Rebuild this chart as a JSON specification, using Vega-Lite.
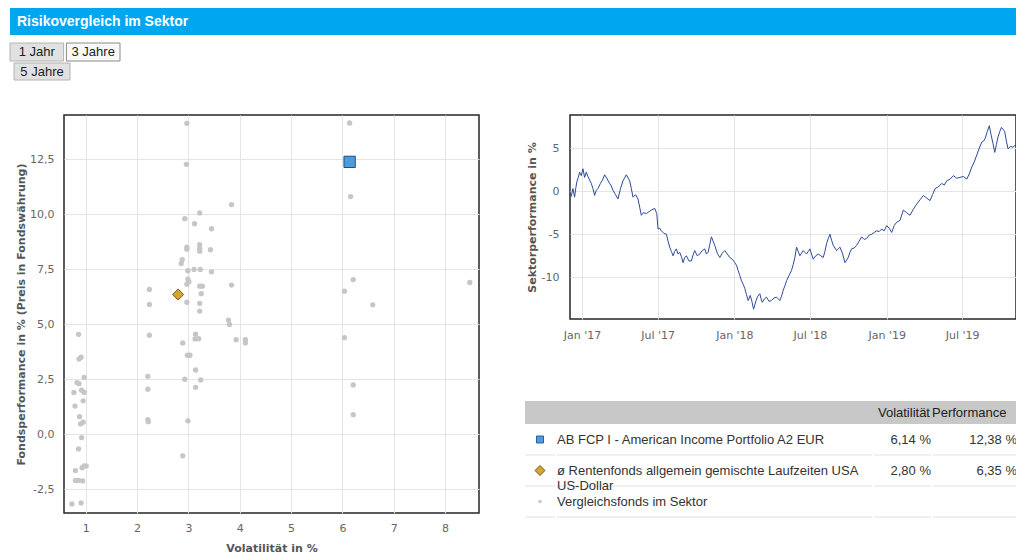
{
  "$schema": "https://vega.github.io/schema/vega-lite/v6.json",
  "background": "white",
  "padding": {"left": 9, "top": 8, "right": 0, "bottom": 0},
  "config": {
    "locale": {"number": {"decimal": ",", "thousands": ".", "grouping": [3], "currency": ["", " €"], "minus": "-"}},
    "view": {"stroke": null},
    "font": "Liberation Sans",
    "axis": {"domain": false, "ticks": false, "gridColor": "#e4e4e4", "gridWidth": 1, "labelFont": "DejaVu Sans", "labelFontSize": 11, "labelColor": "#666666", "titleFont": "DejaVu Sans", "titleFontSize": 11, "titleFontWeight": "bold", "titleColor": "#555555"}
  },
  "datasets": {
    "tabelle": [
      {"Gruppe": "AB FCP I - American Income Portfolio A2 EUR", "Bezeichnung": "AB FCP I - American Income Portfolio A2 EUR", "Volatilität": "6,14 %", "Performance": "12,38 %"},
      {"Gruppe": "ø Rentenfonds allgemein gemischte Laufzeiten USA US-Dollar", "Bezeichnung": "ø Rentenfonds allgemein gemischte Laufzeiten USA\nUS-Dollar", "Volatilität": "2,80 %", "Performance": "6,35 %"},
      {"Gruppe": "Vergleichsfonds im Sektor", "Bezeichnung": "Vergleichsfonds im Sektor", "Volatilität": "", "Performance": ""}
    ],
    "streuung": [
      {"Volatilität": 0.73, "Performance": -3.17, "Gruppe": "Vergleichsfonds im Sektor"},
      {"Volatilität": 0.91, "Performance": -3.12, "Gruppe": "Vergleichsfonds im Sektor"},
      {"Volatilität": 0.80, "Performance": -2.10, "Gruppe": "Vergleichsfonds im Sektor"},
      {"Volatilität": 0.86, "Performance": -2.10, "Gruppe": "Vergleichsfonds im Sektor"},
      {"Volatilität": 0.94, "Performance": -2.12, "Gruppe": "Vergleichsfonds im Sektor"},
      {"Volatilität": 0.80, "Performance": -1.65, "Gruppe": "Vergleichsfonds im Sektor"},
      {"Volatilität": 0.93, "Performance": -1.52, "Gruppe": "Vergleichsfonds im Sektor"},
      {"Volatilität": 0.97, "Performance": -1.44, "Gruppe": "Vergleichsfonds im Sektor"},
      {"Volatilität": 1.01, "Performance": -1.44, "Gruppe": "Vergleichsfonds im Sektor"},
      {"Volatilität": 0.86, "Performance": -0.67, "Gruppe": "Vergleichsfonds im Sektor"},
      {"Volatilität": 0.92, "Performance": -0.15, "Gruppe": "Vergleichsfonds im Sektor"},
      {"Volatilität": 0.90, "Performance": 0.47, "Gruppe": "Vergleichsfonds im Sektor"},
      {"Volatilität": 0.95, "Performance": 0.55, "Gruppe": "Vergleichsfonds im Sektor"},
      {"Volatilität": 0.88, "Performance": 0.80, "Gruppe": "Vergleichsfonds im Sektor"},
      {"Volatilität": 0.79, "Performance": 1.28, "Gruppe": "Vergleichsfonds im Sektor"},
      {"Volatilität": 0.95, "Performance": 1.52, "Gruppe": "Vergleichsfonds im Sektor"},
      {"Volatilität": 0.77, "Performance": 1.90, "Gruppe": "Vergleichsfonds im Sektor"},
      {"Volatilität": 0.97, "Performance": 1.90, "Gruppe": "Vergleichsfonds im Sektor"},
      {"Volatilität": 0.92, "Performance": 2.00, "Gruppe": "Vergleichsfonds im Sektor"},
      {"Volatilität": 0.83, "Performance": 2.35, "Gruppe": "Vergleichsfonds im Sektor"},
      {"Volatilität": 0.87, "Performance": 2.30, "Gruppe": "Vergleichsfonds im Sektor"},
      {"Volatilität": 0.97, "Performance": 2.58, "Gruppe": "Vergleichsfonds im Sektor"},
      {"Volatilität": 0.87, "Performance": 3.42, "Gruppe": "Vergleichsfonds im Sektor"},
      {"Volatilität": 0.91, "Performance": 3.50, "Gruppe": "Vergleichsfonds im Sektor"},
      {"Volatilität": 0.86, "Performance": 4.54, "Gruppe": "Vergleichsfonds im Sektor"},
      {"Volatilität": 2.21, "Performance": 0.66, "Gruppe": "Vergleichsfonds im Sektor"},
      {"Volatilität": 2.22, "Performance": 0.57, "Gruppe": "Vergleichsfonds im Sektor"},
      {"Volatilität": 2.21, "Performance": 2.05, "Gruppe": "Vergleichsfonds im Sektor"},
      {"Volatilität": 2.21, "Performance": 2.63, "Gruppe": "Vergleichsfonds im Sektor"},
      {"Volatilität": 2.24, "Performance": 4.50, "Gruppe": "Vergleichsfonds im Sektor"},
      {"Volatilität": 2.24, "Performance": 5.90, "Gruppe": "Vergleichsfonds im Sektor"},
      {"Volatilität": 2.24, "Performance": 6.58, "Gruppe": "Vergleichsfonds im Sektor"},
      {"Volatilität": 2.89, "Performance": -0.98, "Gruppe": "Vergleichsfonds im Sektor"},
      {"Volatilität": 2.99, "Performance": 0.61, "Gruppe": "Vergleichsfonds im Sektor"},
      {"Volatilität": 2.93, "Performance": 2.50, "Gruppe": "Vergleichsfonds im Sektor"},
      {"Volatilität": 3.24, "Performance": 2.47, "Gruppe": "Vergleichsfonds im Sektor"},
      {"Volatilität": 3.14, "Performance": 2.13, "Gruppe": "Vergleichsfonds im Sektor"},
      {"Volatilität": 3.14, "Performance": 2.92, "Gruppe": "Vergleichsfonds im Sektor"},
      {"Volatilität": 2.98, "Performance": 3.59, "Gruppe": "Vergleichsfonds im Sektor"},
      {"Volatilität": 3.03, "Performance": 3.59, "Gruppe": "Vergleichsfonds im Sektor"},
      {"Volatilität": 2.89, "Performance": 4.15, "Gruppe": "Vergleichsfonds im Sektor"},
      {"Volatilität": 3.14, "Performance": 4.55, "Gruppe": "Vergleichsfonds im Sektor"},
      {"Volatilität": 3.13, "Performance": 4.33, "Gruppe": "Vergleichsfonds im Sektor"},
      {"Volatilität": 3.20, "Performance": 4.34, "Gruppe": "Vergleichsfonds im Sektor"},
      {"Volatilität": 3.22, "Performance": 5.60, "Gruppe": "Vergleichsfonds im Sektor"},
      {"Volatilität": 2.97, "Performance": 6.00, "Gruppe": "Vergleichsfonds im Sektor"},
      {"Volatilität": 3.22, "Performance": 5.95, "Gruppe": "Vergleichsfonds im Sektor"},
      {"Volatilität": 3.25, "Performance": 6.39, "Gruppe": "Vergleichsfonds im Sektor"},
      {"Volatilität": 3.22, "Performance": 6.73, "Gruppe": "Vergleichsfonds im Sektor"},
      {"Volatilität": 3.27, "Performance": 6.73, "Gruppe": "Vergleichsfonds im Sektor"},
      {"Volatilität": 3.84, "Performance": 6.78, "Gruppe": "Vergleichsfonds im Sektor"},
      {"Volatilität": 2.97, "Performance": 6.82, "Gruppe": "Vergleichsfonds im Sektor"},
      {"Volatilität": 3.01, "Performance": 6.93, "Gruppe": "Vergleichsfonds im Sektor"},
      {"Volatilität": 2.99, "Performance": 7.05, "Gruppe": "Vergleichsfonds im Sektor"},
      {"Volatilität": 2.99, "Performance": 7.43, "Gruppe": "Vergleichsfonds im Sektor"},
      {"Volatilität": 3.11, "Performance": 7.49, "Gruppe": "Vergleichsfonds im Sektor"},
      {"Volatilität": 3.23, "Performance": 7.49, "Gruppe": "Vergleichsfonds im Sektor"},
      {"Volatilität": 3.45, "Performance": 7.38, "Gruppe": "Vergleichsfonds im Sektor"},
      {"Volatilität": 2.88, "Performance": 7.94, "Gruppe": "Vergleichsfonds im Sektor"},
      {"Volatilität": 2.86, "Performance": 7.76, "Gruppe": "Vergleichsfonds im Sektor"},
      {"Volatilität": 2.97, "Performance": 8.50, "Gruppe": "Vergleichsfonds im Sektor"},
      {"Volatilität": 2.97, "Performance": 8.41, "Gruppe": "Vergleichsfonds im Sektor"},
      {"Volatilität": 3.22, "Performance": 8.62, "Gruppe": "Vergleichsfonds im Sektor"},
      {"Volatilität": 3.22, "Performance": 8.45, "Gruppe": "Vergleichsfonds im Sektor"},
      {"Volatilität": 3.22, "Performance": 8.32, "Gruppe": "Vergleichsfonds im Sektor"},
      {"Volatilität": 3.43, "Performance": 8.39, "Gruppe": "Vergleichsfonds im Sektor"},
      {"Volatilität": 3.45, "Performance": 9.34, "Gruppe": "Vergleichsfonds im Sektor"},
      {"Volatilität": 3.12, "Performance": 9.57, "Gruppe": "Vergleichsfonds im Sektor"},
      {"Volatilität": 2.93, "Performance": 9.80, "Gruppe": "Vergleichsfonds im Sektor"},
      {"Volatilität": 3.22, "Performance": 10.06, "Gruppe": "Vergleichsfonds im Sektor"},
      {"Volatilität": 3.84, "Performance": 10.44, "Gruppe": "Vergleichsfonds im Sektor"},
      {"Volatilität": 2.96, "Performance": 12.27, "Gruppe": "Vergleichsfonds im Sektor"},
      {"Volatilität": 2.97, "Performance": 14.13, "Gruppe": "Vergleichsfonds im Sektor"},
      {"Volatilität": 3.78, "Performance": 5.19, "Gruppe": "Vergleichsfonds im Sektor"},
      {"Volatilität": 3.80, "Performance": 4.99, "Gruppe": "Vergleichsfonds im Sektor"},
      {"Volatilität": 3.93, "Performance": 4.30, "Gruppe": "Vergleichsfonds im Sektor"},
      {"Volatilität": 4.11, "Performance": 4.30, "Gruppe": "Vergleichsfonds im Sektor"},
      {"Volatilität": 4.11, "Performance": 4.15, "Gruppe": "Vergleichsfonds im Sektor"},
      {"Volatilität": 6.04, "Performance": 4.39, "Gruppe": "Vergleichsfonds im Sektor"},
      {"Volatilität": 6.21, "Performance": 2.24, "Gruppe": "Vergleichsfonds im Sektor"},
      {"Volatilität": 6.21, "Performance": 0.89, "Gruppe": "Vergleichsfonds im Sektor"},
      {"Volatilität": 6.04, "Performance": 6.50, "Gruppe": "Vergleichsfonds im Sektor"},
      {"Volatilität": 6.21, "Performance": 7.03, "Gruppe": "Vergleichsfonds im Sektor"},
      {"Volatilität": 6.59, "Performance": 5.88, "Gruppe": "Vergleichsfonds im Sektor"},
      {"Volatilität": 8.48, "Performance": 6.90, "Gruppe": "Vergleichsfonds im Sektor"},
      {"Volatilität": 6.16, "Performance": 10.80, "Gruppe": "Vergleichsfonds im Sektor"},
      {"Volatilität": 6.14, "Performance": 14.15, "Gruppe": "Vergleichsfonds im Sektor"},
      {"Volatilität": 2.80, "Performance": 6.35, "Gruppe": "ø Rentenfonds allgemein gemischte Laufzeiten USA US-Dollar"},
      {"Volatilität": 6.14, "Performance": 12.38, "Gruppe": "AB FCP I - American Income Portfolio A2 EUR"}
    ],
    "sektor": [
      {"Datum": "2016-12-03", "Wert": -0.3}, {"Datum": "2016-12-06", "Wert": -0.6}, {"Datum": "2016-12-10", "Wert": 0.3},
      {"Datum": "2016-12-14", "Wert": -0.7}, {"Datum": "2016-12-17", "Wert": 0.4}, {"Datum": "2016-12-20", "Wert": 1.2},
      {"Datum": "2016-12-23", "Wert": 1.6}, {"Datum": "2016-12-26", "Wert": 2.2}, {"Datum": "2016-12-30", "Wert": 1.8},
      {"Datum": "2017-01-03", "Wert": 2.6}, {"Datum": "2017-01-07", "Wert": 1.6}, {"Datum": "2017-01-11", "Wert": 2.2},
      {"Datum": "2017-01-15", "Wert": 1.7}, {"Datum": "2017-01-19", "Wert": 1.3}, {"Datum": "2017-01-23", "Wert": 0.9},
      {"Datum": "2017-01-27", "Wert": 0.3}, {"Datum": "2017-01-31", "Wert": -0.5}, {"Datum": "2017-02-04", "Wert": 0.1},
      {"Datum": "2017-02-08", "Wert": 0.3}, {"Datum": "2017-02-14", "Wert": 0.9}, {"Datum": "2017-02-19", "Wert": 1.3},
      {"Datum": "2017-02-24", "Wert": 1.9}, {"Datum": "2017-03-01", "Wert": 1.5}, {"Datum": "2017-03-08", "Wert": 0.9},
      {"Datum": "2017-03-12", "Wert": 0.6}, {"Datum": "2017-03-16", "Wert": 0.1}, {"Datum": "2017-03-22", "Wert": -0.4},
      {"Datum": "2017-03-28", "Wert": -0.9}, {"Datum": "2017-04-03", "Wert": 0.3}, {"Datum": "2017-04-09", "Wert": 1.2},
      {"Datum": "2017-04-17", "Wert": 1.9}, {"Datum": "2017-04-25", "Wert": 1.2}, {"Datum": "2017-04-29", "Wert": 0.3},
      {"Datum": "2017-05-03", "Wert": -0.7}, {"Datum": "2017-05-09", "Wert": -0.4}, {"Datum": "2017-05-15", "Wert": -0.9},
      {"Datum": "2017-05-23", "Wert": -2.8}, {"Datum": "2017-05-28", "Wert": -2.5}, {"Datum": "2017-06-04", "Wert": -2.6},
      {"Datum": "2017-06-10", "Wert": -2.4}, {"Datum": "2017-06-16", "Wert": -2.2}, {"Datum": "2017-06-24", "Wert": -2.0},
      {"Datum": "2017-06-29", "Wert": -2.6}, {"Datum": "2017-07-02", "Wert": -4.4}, {"Datum": "2017-07-06", "Wert": -4.3},
      {"Datum": "2017-07-10", "Wert": -4.6}, {"Datum": "2017-07-16", "Wert": -4.9}, {"Datum": "2017-07-22", "Wert": -5.0},
      {"Datum": "2017-07-26", "Wert": -5.8}, {"Datum": "2017-07-30", "Wert": -6.5}, {"Datum": "2017-08-03", "Wert": -7.0},
      {"Datum": "2017-08-07", "Wert": -7.5}, {"Datum": "2017-08-11", "Wert": -7.0}, {"Datum": "2017-08-15", "Wert": -6.7},
      {"Datum": "2017-08-19", "Wert": -7.3}, {"Datum": "2017-08-23", "Wert": -7.1}, {"Datum": "2017-08-27", "Wert": -7.6},
      {"Datum": "2017-08-31", "Wert": -8.3}, {"Datum": "2017-09-04", "Wert": -7.7}, {"Datum": "2017-09-08", "Wert": -7.5},
      {"Datum": "2017-09-14", "Wert": -8.1}, {"Datum": "2017-09-20", "Wert": -8.1}, {"Datum": "2017-09-24", "Wert": -7.4},
      {"Datum": "2017-09-28", "Wert": -6.9}, {"Datum": "2017-10-04", "Wert": -7.5}, {"Datum": "2017-10-10", "Wert": -7.3},
      {"Datum": "2017-10-16", "Wert": -6.9}, {"Datum": "2017-10-22", "Wert": -6.7}, {"Datum": "2017-10-26", "Wert": -7.3},
      {"Datum": "2017-10-30", "Wert": -7.1}, {"Datum": "2017-11-03", "Wert": -6.2}, {"Datum": "2017-11-07", "Wert": -5.3},
      {"Datum": "2017-11-11", "Wert": -5.8}, {"Datum": "2017-11-15", "Wert": -6.3}, {"Datum": "2017-11-21", "Wert": -7.2},
      {"Datum": "2017-11-27", "Wert": -7.7}, {"Datum": "2017-12-03", "Wert": -7.2}, {"Datum": "2017-12-09", "Wert": -6.9},
      {"Datum": "2017-12-15", "Wert": -7.3}, {"Datum": "2017-12-21", "Wert": -7.7}, {"Datum": "2017-12-27", "Wert": -7.9},
      {"Datum": "2018-01-02", "Wert": -8.3}, {"Datum": "2018-01-06", "Wert": -8.6}, {"Datum": "2018-01-10", "Wert": -9.2},
      {"Datum": "2018-01-14", "Wert": -9.8}, {"Datum": "2018-01-18", "Wert": -10.4}, {"Datum": "2018-01-22", "Wert": -10.8},
      {"Datum": "2018-01-26", "Wert": -11.3}, {"Datum": "2018-01-30", "Wert": -12.0}, {"Datum": "2018-02-03", "Wert": -12.7},
      {"Datum": "2018-02-08", "Wert": -12.1}, {"Datum": "2018-02-12", "Wert": -12.8}, {"Datum": "2018-02-16", "Wert": -13.7},
      {"Datum": "2018-02-19", "Wert": -13.2}, {"Datum": "2018-02-22", "Wert": -12.7}, {"Datum": "2018-02-26", "Wert": -12.2},
      {"Datum": "2018-03-03", "Wert": -11.9}, {"Datum": "2018-03-06", "Wert": -12.5}, {"Datum": "2018-03-09", "Wert": -12.9},
      {"Datum": "2018-03-14", "Wert": -12.5}, {"Datum": "2018-03-19", "Wert": -12.3}, {"Datum": "2018-03-25", "Wert": -12.8},
      {"Datum": "2018-03-31", "Wert": -12.7}, {"Datum": "2018-04-06", "Wert": -12.4}, {"Datum": "2018-04-12", "Wert": -12.3},
      {"Datum": "2018-04-16", "Wert": -12.5}, {"Datum": "2018-04-20", "Wert": -12.7}, {"Datum": "2018-04-24", "Wert": -12.2},
      {"Datum": "2018-04-28", "Wert": -11.5}, {"Datum": "2018-05-02", "Wert": -11.0}, {"Datum": "2018-05-06", "Wert": -10.4},
      {"Datum": "2018-05-12", "Wert": -9.8}, {"Datum": "2018-05-18", "Wert": -9.2}, {"Datum": "2018-05-22", "Wert": -8.5},
      {"Datum": "2018-05-26", "Wert": -7.7}, {"Datum": "2018-05-30", "Wert": -6.5}, {"Datum": "2018-06-03", "Wert": -7.0},
      {"Datum": "2018-06-07", "Wert": -7.5}, {"Datum": "2018-06-11", "Wert": -7.2}, {"Datum": "2018-06-15", "Wert": -6.9},
      {"Datum": "2018-06-19", "Wert": -7.1}, {"Datum": "2018-06-23", "Wert": -7.3}, {"Datum": "2018-06-27", "Wert": -7.0},
      {"Datum": "2018-07-01", "Wert": -6.7}, {"Datum": "2018-07-05", "Wert": -7.3}, {"Datum": "2018-07-09", "Wert": -7.9},
      {"Datum": "2018-07-15", "Wert": -7.5}, {"Datum": "2018-07-21", "Wert": -7.3}, {"Datum": "2018-07-27", "Wert": -7.5},
      {"Datum": "2018-08-02", "Wert": -7.7}, {"Datum": "2018-08-06", "Wert": -7.0}, {"Datum": "2018-08-10", "Wert": -6.1},
      {"Datum": "2018-08-14", "Wert": -5.5}, {"Datum": "2018-08-18", "Wert": -5.0}, {"Datum": "2018-08-22", "Wert": -5.7},
      {"Datum": "2018-08-26", "Wert": -6.3}, {"Datum": "2018-09-03", "Wert": -6.9}, {"Datum": "2018-09-07", "Wert": -6.7},
      {"Datum": "2018-09-11", "Wert": -6.5}, {"Datum": "2018-09-17", "Wert": -7.2}, {"Datum": "2018-09-23", "Wert": -8.3},
      {"Datum": "2018-09-27", "Wert": -8.0}, {"Datum": "2018-10-01", "Wert": -7.7}, {"Datum": "2018-10-05", "Wert": -7.1},
      {"Datum": "2018-10-09", "Wert": -6.7}, {"Datum": "2018-10-15", "Wert": -6.6}, {"Datum": "2018-10-21", "Wert": -6.3},
      {"Datum": "2018-10-27", "Wert": -5.8}, {"Datum": "2018-11-02", "Wert": -5.3}, {"Datum": "2018-11-08", "Wert": -5.6},
      {"Datum": "2018-11-14", "Wert": -5.5}, {"Datum": "2018-11-20", "Wert": -5.1}, {"Datum": "2018-11-26", "Wert": -5.0},
      {"Datum": "2018-12-02", "Wert": -4.8}, {"Datum": "2018-12-08", "Wert": -4.6}, {"Datum": "2018-12-14", "Wert": -4.7},
      {"Datum": "2018-12-20", "Wert": -4.4}, {"Datum": "2018-12-26", "Wert": -4.6}, {"Datum": "2019-01-01", "Wert": -4.0},
      {"Datum": "2019-01-07", "Wert": -4.3}, {"Datum": "2019-01-13", "Wert": -4.8}, {"Datum": "2019-01-19", "Wert": -4.0},
      {"Datum": "2019-01-25", "Wert": -3.6}, {"Datum": "2019-02-02", "Wert": -3.4}, {"Datum": "2019-02-10", "Wert": -2.2},
      {"Datum": "2019-02-18", "Wert": -2.5}, {"Datum": "2019-02-26", "Wert": -2.8}, {"Datum": "2019-03-06", "Wert": -2.1},
      {"Datum": "2019-03-14", "Wert": -1.5}, {"Datum": "2019-03-22", "Wert": -1.0}, {"Datum": "2019-03-30", "Wert": -0.5},
      {"Datum": "2019-04-07", "Wert": -0.8}, {"Datum": "2019-04-15", "Wert": -1.1}, {"Datum": "2019-04-21", "Wert": -0.4},
      {"Datum": "2019-04-27", "Wert": 0.3}, {"Datum": "2019-05-05", "Wert": 0.5}, {"Datum": "2019-05-13", "Wert": 0.9},
      {"Datum": "2019-05-19", "Wert": 0.7}, {"Datum": "2019-05-25", "Wert": 1.2}, {"Datum": "2019-06-02", "Wert": 1.4},
      {"Datum": "2019-06-10", "Wert": 1.8}, {"Datum": "2019-06-18", "Wert": 1.5}, {"Datum": "2019-06-26", "Wert": 1.6},
      {"Datum": "2019-07-04", "Wert": 1.7}, {"Datum": "2019-07-12", "Wert": 1.4}, {"Datum": "2019-07-18", "Wert": 2.0},
      {"Datum": "2019-07-24", "Wert": 2.8}, {"Datum": "2019-07-30", "Wert": 3.4}, {"Datum": "2019-08-05", "Wert": 4.2},
      {"Datum": "2019-08-11", "Wert": 5.0}, {"Datum": "2019-08-17", "Wert": 5.7}, {"Datum": "2019-08-21", "Wert": 5.8},
      {"Datum": "2019-08-25", "Wert": 6.1}, {"Datum": "2019-08-30", "Wert": 6.9}, {"Datum": "2019-09-04", "Wert": 7.6},
      {"Datum": "2019-09-08", "Wert": 6.6}, {"Datum": "2019-09-13", "Wert": 5.5}, {"Datum": "2019-09-17", "Wert": 4.5},
      {"Datum": "2019-09-21", "Wert": 5.4}, {"Datum": "2019-09-25", "Wert": 6.3}, {"Datum": "2019-09-29", "Wert": 6.9},
      {"Datum": "2019-10-03", "Wert": 7.4}, {"Datum": "2019-10-07", "Wert": 7.2}, {"Datum": "2019-10-11", "Wert": 6.9},
      {"Datum": "2019-10-15", "Wert": 5.8}, {"Datum": "2019-10-19", "Wert": 4.9}, {"Datum": "2019-10-25", "Wert": 5.2},
      {"Datum": "2019-10-31", "Wert": 5.1}, {"Datum": "2019-11-06", "Wert": 5.4}, {"Datum": "2019-11-12", "Wert": 5.9},
      {"Datum": "2019-11-18", "Wert": 6.1}
    ]
  },
  "vconcat": [
    {
      "vconcat": [
        {
          "width": 1007, "height": 27,
          "view": {"fill": "#00a7f0", "stroke": null},
          "data": {"values": [{"Titel": "Risikovergleich im Sektor"}]},
          "mark": {"type": "text", "align": "left", "baseline": "middle", "dx": 7, "font": "Liberation Sans", "fontSize": 14, "fontWeight": "bold", "color": "#ffffff"},
          "encoding": {"text": {"field": "Titel", "type": "nominal"}, "x": {"value": 0}}
        },
        {
          "vconcat": [
            {
              "width": 110, "height": 18,
              "data": {"values": [{"Zeitraum": "1 Jahr", "Aktiv": "nein"}, {"Zeitraum": "3 Jahre", "Aktiv": "ja"}]},
              "encoding": {"x": {"field": "Zeitraum", "type": "nominal", "sort": null, "axis": null, "scale": {"type": "band", "paddingInner": 0.05, "paddingOuter": 0}}},
              "layer": [
                {"mark": {"type": "rect", "strokeWidth": 1},
                 "encoding": {
                   "fill": {"field": "Aktiv", "type": "nominal", "scale": {"domain": ["ja", "nein"], "range": ["#f8f8f8", "#e1e1e1"]}, "legend": null},
                   "stroke": {"field": "Aktiv", "type": "nominal", "scale": {"domain": ["ja", "nein"], "range": ["#8c8c8c", "#b4b4b4"]}, "legend": null}}},
                {"mark": {"type": "text", "fontSize": 13, "color": "#222222", "baseline": "middle"},
                 "encoding": {"text": {"field": "Zeitraum", "type": "nominal"}}}
              ]
            },
            {
              "width": 60, "height": 17,
              "data": {"values": [{"Zeitraum": "5 Jahre", "Aktiv": "nein"}]},
              "encoding": {"x": {"field": "Zeitraum", "type": "nominal", "axis": null, "scale": {"type": "band", "paddingInner": 0, "paddingOuter": 0.036, "align": 1}}},
              "layer": [
                {"mark": {"type": "rect", "strokeWidth": 1, "fill": "#e1e1e1", "stroke": "#b4b4b4"}},
                {"mark": {"type": "text", "fontSize": 13, "color": "#222222", "baseline": "middle"},
                 "encoding": {"text": {"field": "Zeitraum", "type": "nominal"}}}
              ]
            }
          ],
          "spacing": 0
        }
      ],
      "spacing": 7
    },
    {
      "hconcat": [
        {
          "hconcat": [
            {
              "width": 1, "height": 398,
              "data": {"name": "streuung"},
              "mark": {"type": "point", "size": 0, "opacity": 0, "filled": true, "strokeWidth": 0},
              "encoding": {
                "y": {"field": "Performance", "type": "quantitative", "scale": {"domain": [-3.58, 14.51], "nice": false, "zero": false},
                      "axis": {"orient": "right", "grid": false, "title": "Fondsperformance in % (Preis in Fondswährung)", "values": [-2.5, 0, 2.5, 5, 7.5, 10, 12.5], "format": ".1f", "labelAlign": "right", "labelPadding": 43, "titleAngle": 270, "titleX": 10.5, "titleY": 199, "titleAlign": "center", "titleBaseline": "middle"}}
              }
            },
            {
              "width": 415, "height": 398,
              "view": {"stroke": "#262626", "strokeWidth": 1.5},
              "data": {"name": "streuung"},
              "encoding": {
                "x": {"field": "Volatilität", "type": "quantitative", "scale": {"domain": [0.577, 8.66], "nice": false, "zero": false},
                      "axis": {"title": "Volatilität in %", "values": [1, 2, 3, 4, 5, 6, 7, 8], "format": "d", "labelPadding": 9, "titlePadding": 9}},
                "y": {"field": "Performance", "type": "quantitative", "scale": {"domain": [-3.58, 14.51], "nice": false, "zero": false},
                      "axis": {"title": null, "labels": false, "values": [-2.5, 0, 2.5, 5, 7.5, 10, 12.5]}}
              },
              "layer": [
                {"transform": [{"filter": {"field": "Gruppe", "equal": "Vergleichsfonds im Sektor"}}],
                 "mark": {"type": "circle", "fill": "#c6c6c6", "size": 28, "opacity": 1}},
                {"transform": [{"filter": {"field": "Gruppe", "equal": "ø Rentenfonds allgemein gemischte Laufzeiten USA US-Dollar"}}],
                 "mark": {"type": "point", "shape": "diamond", "filled": true, "fill": "#d6a432", "stroke": "#7b5a12", "strokeWidth": 1, "size": 121, "opacity": 1}},
                {"transform": [{"filter": {"field": "Gruppe", "equal": "AB FCP I - American Income Portfolio A2 EUR"}}],
                 "mark": {"type": "square", "fill": "#4b9be0", "stroke": "#244d7a", "strokeWidth": 1, "size": 128, "opacity": 1}}
              ]
            }
          ],
          "spacing": 9
        },
        {
          "vconcat": [
            {
              "hconcat": [
                {
                  "width": 1, "height": 204,
                  "data": {"name": "sektor"},
                  "mark": {"type": "point", "size": 0, "opacity": 0, "filled": true, "strokeWidth": 0},
                  "encoding": {
                    "y": {"field": "Wert", "type": "quantitative", "scale": {"domain": [-14.84, 8.84], "nice": false, "zero": false},
                          "axis": {"orient": "right", "grid": false, "title": "Sektorperformance in %", "values": [-10, -5, 0, 5], "format": "d", "labelAlign": "right", "labelPadding": 33, "titleAngle": 270, "titleX": 6, "titleY": 102, "titleAlign": "center", "titleBaseline": "middle"}}
                  }
                },
                {
                  "width": 446, "height": 204,
                  "view": {"stroke": "#262626", "strokeWidth": 1.5},
                  "data": {"name": "sektor"},
                  "mark": {"type": "line", "color": "#2e4a97", "strokeWidth": 1, "clip": true},
                  "encoding": {
                    "x": {"field": "Datum", "type": "temporal",
                          "scale": {"type": "utc", "nice": false, "domain": [{"year": 2016, "month": 12, "date": 3, "utc": true}, {"year": 2019, "month": 11, "date": 7, "utc": true}]},
                          "axis": {"title": null, "format": "%b '%y", "tickCount": {"interval": "month", "step": 6}, "labelPadding": 10}},
                    "y": {"field": "Wert", "type": "quantitative", "scale": {"domain": [-14.84, 8.84], "nice": false, "zero": false},
                          "axis": {"title": null, "labels": false, "values": [-10, -5, 0, 5]}}
                  }
                }
              ],
              "spacing": 3
            },
            {
              "vconcat": [
                {
                  "hconcat": [
                    {"width": 405, "height": 23, "view": {"fill": "#c8c8c8", "stroke": null},
                     "data": {"values": [{"Spalte": "Volatilität"}]},
                     "mark": {"type": "text", "align": "right", "baseline": "middle", "fontSize": 13, "color": "#222222"},
                     "encoding": {"text": {"field": "Spalte", "type": "nominal"}, "x": {"value": "width"}}},
                    {"width": 86, "height": 23, "view": {"fill": "#c8c8c8", "stroke": null},
                     "data": {"values": [{"Spalte": "Performance"}]},
                     "mark": {"type": "text", "align": "left", "baseline": "middle", "dx": 2, "fontSize": 13, "color": "#222222"},
                     "encoding": {"text": {"field": "Spalte", "type": "nominal"}, "x": {"value": 0}}}
                  ],
                  "spacing": 0
                },
                {
                  "hconcat": [
                    {
                      "width": 30, "height": 93,
                      "data": {"name": "tabelle"},
                      "encoding": {"y": {"field": "Gruppe", "type": "nominal", "axis": null, "scale": {"type": "band", "domain": ["AB FCP I - American Income Portfolio A2 EUR", "ø Rentenfonds allgemein gemischte Laufzeiten USA US-Dollar", "Vergleichsfonds im Sektor"], "paddingInner": 0, "paddingOuter": 0}}},
                      "layer": [
                        {"mark": {"type": "rule", "color": "#e0e0e0", "strokeWidth": 1},
                         "encoding": {"y": {"field": "Gruppe", "type": "nominal", "axis": null, "bandPosition": 1}, "x": {"value": 0}, "x2": {"value": "width"}}},
                        {"transform": [{"filter": {"field": "Gruppe", "equal": "AB FCP I - American Income Portfolio A2 EUR"}}],
                         "mark": {"type": "square", "fill": "#4b9be0", "stroke": "#2f5f90", "strokeWidth": 1, "size": 49, "opacity": 1}},
                        {"transform": [{"filter": {"field": "Gruppe", "equal": "ø Rentenfonds allgemein gemischte Laufzeiten USA US-Dollar"}}],
                         "mark": {"type": "point", "shape": "diamond", "filled": true, "fill": "#d6a432", "stroke": "#7b5a12", "strokeWidth": 1, "size": 100, "opacity": 1}},
                        {"transform": [{"filter": {"field": "Gruppe", "equal": "Vergleichsfonds im Sektor"}}],
                         "mark": {"type": "circle", "fill": "#cccccc", "size": 14, "opacity": 1}}
                      ]
                    },
                    {
                      "width": 315, "height": 93,
                      "data": {"name": "tabelle"},
                      "encoding": {"y": {"field": "Gruppe", "type": "nominal", "axis": null, "scale": {"type": "band", "domain": ["AB FCP I - American Income Portfolio A2 EUR", "ø Rentenfonds allgemein gemischte Laufzeiten USA US-Dollar", "Vergleichsfonds im Sektor"], "paddingInner": 0, "paddingOuter": 0}}},
                      "layer": [
                        {"mark": {"type": "rule", "color": "#e0e0e0", "strokeWidth": 1},
                         "encoding": {"y": {"field": "Gruppe", "type": "nominal", "axis": null, "bandPosition": 1}, "x": {"value": 0}, "x2": {"value": "width"}}},
                        {"mark": {"type": "text", "align": "left", "baseline": "middle", "fontSize": 13, "color": "#333333", "lineBreak": "\n", "lineHeight": 15},
                         "encoding": {"x": {"value": 0}, "text": {"field": "Bezeichnung", "type": "nominal"}}}
                      ]
                    },
                    {
                      "width": 57, "height": 93,
                      "data": {"name": "tabelle"},
                      "encoding": {"y": {"field": "Gruppe", "type": "nominal", "axis": null, "scale": {"type": "band", "domain": ["AB FCP I - American Income Portfolio A2 EUR", "ø Rentenfonds allgemein gemischte Laufzeiten USA US-Dollar", "Vergleichsfonds im Sektor"], "paddingInner": 0, "paddingOuter": 0}}},
                      "layer": [
                        {"mark": {"type": "rule", "color": "#e0e0e0", "strokeWidth": 1},
                         "encoding": {"y": {"field": "Gruppe", "type": "nominal", "axis": null, "bandPosition": 1}, "x": {"value": 0}, "x2": {"value": "width"}}},
                        {"mark": {"type": "text", "align": "right", "baseline": "middle", "fontSize": 13, "color": "#333333"},
                         "encoding": {"x": {"value": "width"}, "text": {"field": "Volatilität", "type": "nominal"}}}
                      ]
                    },
                    {
                      "width": 86, "height": 93,
                      "data": {"name": "tabelle"},
                      "encoding": {"y": {"field": "Gruppe", "type": "nominal", "axis": null, "scale": {"type": "band", "domain": ["AB FCP I - American Income Portfolio A2 EUR", "ø Rentenfonds allgemein gemischte Laufzeiten USA US-Dollar", "Vergleichsfonds im Sektor"], "paddingInner": 0, "paddingOuter": 0}}},
                      "layer": [
                        {"mark": {"type": "rule", "color": "#e0e0e0", "strokeWidth": 1},
                         "encoding": {"y": {"field": "Gruppe", "type": "nominal", "axis": null, "bandPosition": 1}, "x": {"value": 0}, "x2": {"value": "width"}}},
                        {"mark": {"type": "text", "align": "right", "baseline": "middle", "dx": -2, "fontSize": 13, "color": "#333333"},
                         "encoding": {"x": {"value": "width"}, "text": {"field": "Performance", "type": "nominal"}}}
                      ]
                    }
                  ],
                  "spacing": 0
                }
              ],
              "spacing": 0
            }
          ],
          "spacing": 60
        }
      ],
      "spacing": 44
    }
  ],
  "spacing": 33
}
